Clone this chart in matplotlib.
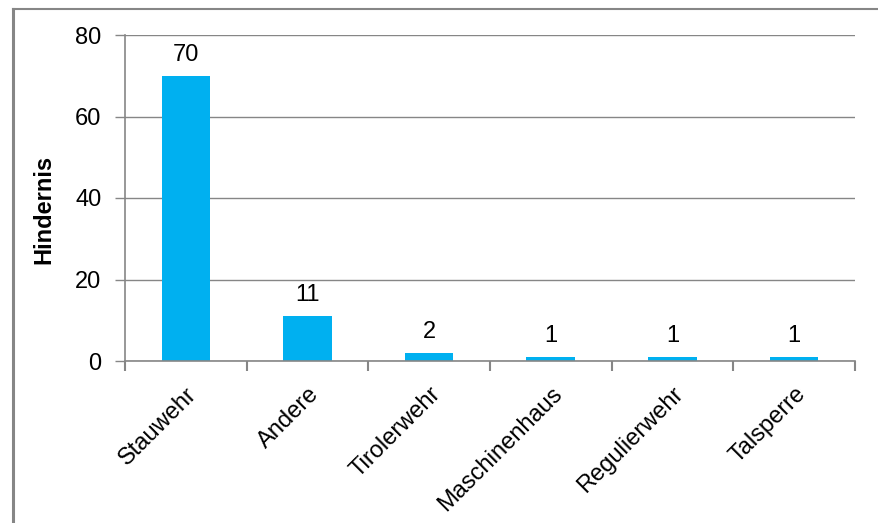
#!/usr/bin/env python3
import matplotlib
matplotlib.use('Agg')
import matplotlib.pyplot as plt
from matplotlib.lines import Line2D

# DATA ------------------------------------------------------------------------
categories = ['Stauwehr', 'Andere', 'Tirolerwehr', 'Maschinenhaus',
              'Regulierwehr', 'Talsperre']
counts = [70, 11, 2, 1, 1, 1]
y_ticks = [0, 20, 40, 60, 80]

plt.rcParams['font.family'] = ['Liberation Sans', 'DejaVu Sans']

W, H = 879, 523
fig = plt.figure(figsize=(W / 100, H / 100), dpi=100)
ax = fig.add_axes([125 / W, 1 - 361 / H, (855 - 125) / W, (361 - 35) / H])

grey = '#868686'
fs = 17
x = list(range(len(categories)))
bars = ax.bar(x, counts, width=0.4, color='#00B0F0', zorder=3)
for b, v in zip(bars, counts):
    ax.text(b.get_x() + b.get_width() / 2, v + 2.4, str(v),
            ha='center', va='bottom', fontsize=fs, color='black')

ax.set_xlim(-0.5, len(categories) - 0.5)
ax.set_ylim(0, 80)
ax.set_yticks(y_ticks)
ax.yaxis.grid(True, color=grey, linewidth=1, zorder=0)
ax.tick_params(axis='y', direction='out', length=7, color=grey, width=1,
               labelsize=fs, pad=10)

# boundary ticks, labels at category centres
ax.set_xticks([i - 0.5 for i in range(len(categories) + 1)])
ax.set_xticklabels([])
ax.tick_params(axis='x', which='major', direction='out', length=7,
               color=grey, width=1.5)
ax.set_xticks(x, minor=True)
ax.set_xticklabels(categories, minor=True, rotation=45, ha='right',
                   rotation_mode='anchor', fontsize=fs)
ax.tick_params(axis='x', which='minor', length=0, pad=16)

for s in ['top', 'right']:
    ax.spines[s].set_visible(False)
for s in ['left', 'bottom']:
    ax.spines[s].set_color(grey)
    ax.spines[s].set_linewidth(1.2)
ax.spines['left'].set_zorder(4)
ax.spines['bottom'].set_zorder(4)

ax.set_ylabel('Hindernis', fontsize=fs, fontweight='bold', va='center')
ax.yaxis.set_label_coords(44 / W, 1 - 209 / H, transform=fig.transFigure)

# frame around the chart area
fig.add_artist(Line2D([13 / W, 13 / W], [0, 1 - 9 / H], color=grey,
                      linewidth=2.2, transform=fig.transFigure))
fig.add_artist(Line2D([13 / W, 1], [1 - 9 / H, 1 - 9 / H], color=grey,
                      linewidth=1.5, transform=fig.transFigure))

fig.savefig('out.png', dpi=100)
